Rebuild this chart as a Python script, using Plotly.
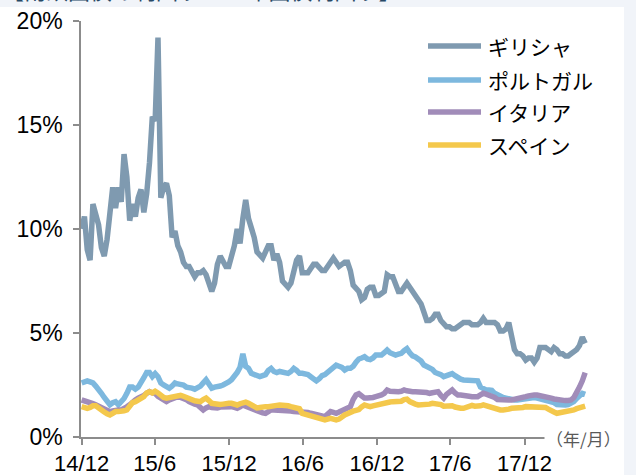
import pandas as pd
import plotly.graph_objects as go

# weekly observation dates (every 7 days from 2014-12-31)
dates = pd.date_range("2014-12-31", periods=179, freq="7D")

series_names = ["ギリシャ", "ポルトガル", "イタリア", "スペイン"]
series_colors = ["#7f9ab0", "#7db8de", "#a18cb9", "#f4c84c"]

greece = [
    10.0, 10.6, 9.0, 8.5, 11.2, 10.8, 10.2, 9.1, 8.7, 9.5,
    10.6, 12.0, 11.0, 12.0, 11.3, 13.6, 12.5, 10.4, 11.2, 10.6,
    11.5, 11.9, 10.8, 11.7, 13.2, 15.4, 15.2, 19.2, 11.5, 12.0,
    12.2, 11.6, 9.6, 9.9, 9.2, 8.9, 8.4, 8.2, 8.2, 7.9,
    7.7, 7.9, 7.9, 8.0, 7.8, 7.4, 7.0, 7.4, 8.3, 8.7,
    8.5, 8.2, 8.2, 8.6, 9.2, 10.0, 9.3, 10.5, 11.4, 10.5,
    10.1, 9.6, 8.9, 8.7, 8.6, 8.9, 9.2, 9.2, 8.5, 8.8,
    8.4, 7.5, 7.3, 7.2, 7.4, 8.1, 8.5, 8.7, 7.9, 7.9,
    7.9, 8.1, 8.3, 8.3, 8.1, 8.0, 8.0, 8.2, 8.4, 8.6,
    8.4, 8.2, 8.3, 8.4, 8.4, 8.0, 7.3, 7.1, 7.0, 6.6,
    6.7, 7.1, 7.2, 7.2, 6.8, 6.8, 6.9, 7.0, 7.8, 7.7,
    7.7, 7.4, 7.0, 7.0, 7.2, 7.4, 7.2, 7.0, 6.8, 6.6,
    6.4, 6.0, 5.6, 5.6, 5.7, 5.9, 5.9, 5.6, 5.4, 5.3,
    5.3, 5.2, 5.2, 5.3, 5.4, 5.5, 5.5, 5.5, 5.4, 5.4,
    5.4, 5.5, 5.7, 5.5, 5.5, 5.5, 5.5, 5.4, 5.1, 5.1,
    5.2, 5.5, 4.9, 4.2, 4.0, 4.0, 3.9, 3.7, 3.8, 3.8,
    3.6, 3.8, 4.3, 4.3, 4.3, 4.2, 4.1, 4.3, 4.2, 4.0,
    4.0, 3.9, 3.9, 4.0, 4.1, 4.2, 4.4, 4.8, 4.5,
]

portugal = [
    2.6, 2.65, 2.7, 2.65, 2.6, 2.45, 2.3, 2.1, 1.9, 1.7,
    1.55, 1.65, 1.7, 1.55, 1.7, 1.85, 2.1, 2.4, 2.4, 2.3,
    2.4, 2.7, 2.85, 3.1, 3.1, 2.9, 3.05, 2.9, 2.6, 2.5,
    2.4, 2.35, 2.45, 2.6, 2.55, 2.55, 2.5, 2.4, 2.4, 2.35,
    2.3, 2.35, 2.45, 2.6, 2.75, 2.55, 2.35, 2.4, 2.4, 2.45,
    2.5, 2.55, 2.65, 2.75, 2.9, 3.1, 3.35, 4.0, 3.4, 3.3,
    3.06, 3.0, 2.9, 2.9, 2.95, 3.0, 3.2, 3.3, 3.15, 3.1,
    3.15, 3.14, 3.12, 3.06, 3.15, 3.3, 3.2, 3.06, 3.06, 3.04,
    3.0, 2.9, 2.8, 2.7, 2.8, 2.95, 3.0, 3.1, 3.22, 3.3,
    3.45, 3.4, 3.35, 3.22, 3.3, 3.3, 3.4, 3.6, 3.75, 3.8,
    3.86, 3.75, 3.72, 3.8, 3.94, 3.94, 3.94, 4.05, 4.18, 4.05,
    4.0, 3.94, 3.98, 4.02, 4.15, 4.25, 4.05, 3.9, 3.85, 3.78,
    3.65, 3.46, 3.4, 3.3, 3.25, 3.1, 3.06, 3.0, 2.9, 2.95,
    3.0, 3.05, 2.95, 2.82, 2.78, 2.74, 2.74, 2.74, 2.74, 2.74,
    2.7, 2.4, 2.3, 2.26, 2.26, 2.24, 2.1, 2.02, 1.95, 1.9,
    1.87, 1.82, 1.78, 1.78, 1.78, 1.8, 1.85, 1.87, 1.9, 1.94,
    1.9, 1.87, 1.84, 1.8, 1.78, 1.74, 1.7, 1.65, 1.56, 1.54,
    1.54, 1.54, 1.56, 1.62, 1.7, 1.85, 2.0, 2.1, 2.05,
]

italy = [
    1.78, 1.75, 1.70, 1.66, 1.60, 1.55, 1.48, 1.40, 1.35, 1.28,
    1.22, 1.25, 1.30, 1.30, 1.30, 1.35, 1.45, 1.55, 1.70, 1.78,
    1.87, 1.92, 2.00, 2.10, 2.18, 2.12, 2.10, 1.95, 1.85, 1.78,
    1.70, 1.78, 1.85, 1.90, 1.94, 1.90, 1.87, 1.80, 1.70, 1.62,
    1.58, 1.54, 1.40, 1.30, 1.40, 1.46, 1.42, 1.38, 1.40, 1.44,
    1.46, 1.46, 1.46, 1.46, 1.42, 1.38, 1.45, 1.54, 1.48, 1.42,
    1.38, 1.32, 1.24, 1.22, 1.16, 1.14, 1.22, 1.30, 1.30, 1.30,
    1.30, 1.30, 1.30, 1.28, 1.25, 1.22, 1.22, 1.22, 1.22, 1.22,
    1.18, 1.14, 1.12, 1.08, 1.04, 1.00, 0.98, 1.10, 1.22, 1.18,
    1.14, 1.20, 1.28, 1.30, 1.38, 1.46, 1.80, 2.02, 2.08, 2.00,
    1.87, 1.87, 1.87, 1.90, 1.94, 1.97, 2.02, 2.10, 2.26, 2.20,
    2.18, 2.18, 2.18, 2.20, 2.26, 2.22, 2.18, 2.18, 2.18, 2.18,
    2.18, 2.18, 2.14, 2.10, 2.12, 2.16, 2.18, 2.00, 1.87, 2.05,
    2.20, 2.26, 2.12, 2.02, 2.02, 2.02, 2.00, 1.96, 1.94, 1.94,
    1.94, 2.02, 2.10, 2.06, 2.02, 2.00, 1.90, 1.80, 1.78, 1.78,
    1.78, 1.78, 1.78, 1.80, 1.85, 1.88, 1.92, 1.94, 1.98, 2.02,
    2.02, 2.02, 2.00, 1.96, 1.94, 1.90, 1.87, 1.83, 1.80, 1.78,
    1.76, 1.75, 1.76, 1.78, 1.90, 2.10, 2.40, 2.70, 3.10,
]

spain = [
    1.46, 1.42, 1.38, 1.42, 1.50, 1.50, 1.38, 1.30, 1.20, 1.12,
    1.06, 1.14, 1.22, 1.22, 1.22, 1.26, 1.30, 1.50, 1.65, 1.70,
    1.78, 1.85, 1.94, 2.12, 2.18, 2.12, 2.20, 2.12, 1.98, 1.90,
    1.87, 1.90, 1.94, 1.98, 2.00, 2.00, 1.96, 1.90, 1.82, 1.78,
    1.74, 1.72, 1.70, 1.80, 1.87, 1.75, 1.62, 1.60, 1.56, 1.56,
    1.58, 1.62, 1.62, 1.62, 1.58, 1.54, 1.60, 1.66, 1.68, 1.62,
    1.54, 1.46, 1.40, 1.42, 1.46, 1.46, 1.46, 1.46, 1.48, 1.52,
    1.54, 1.54, 1.54, 1.50, 1.46, 1.44, 1.40, 1.36, 1.14, 1.10,
    1.08, 1.06, 1.02, 0.94, 0.88, 0.84, 0.82, 0.86, 0.90, 0.86,
    0.82, 0.86, 0.98, 1.06, 1.12, 1.20, 1.24, 1.28, 1.32, 1.45,
    1.54, 1.50, 1.46, 1.50, 1.54, 1.56, 1.60, 1.62, 1.66, 1.68,
    1.70, 1.70, 1.70, 1.72, 1.80, 1.82, 1.70, 1.62, 1.58, 1.54,
    1.54, 1.54, 1.56, 1.58, 1.62, 1.62, 1.62, 1.56, 1.48, 1.48,
    1.52, 1.50, 1.44, 1.38, 1.38, 1.38, 1.44, 1.50, 1.52, 1.48,
    1.46, 1.50, 1.54, 1.50, 1.46, 1.44, 1.38, 1.30, 1.30, 1.30,
    1.30, 1.34, 1.38, 1.38, 1.38, 1.38, 1.42, 1.46, 1.46, 1.46,
    1.46, 1.46, 1.46, 1.46, 1.42, 1.34, 1.24, 1.20, 1.14, 1.16,
    1.20, 1.22, 1.24, 1.28, 1.30, 1.36, 1.38, 1.42, 1.48,
]

tick_dates = ["2014-12-31", "2015-06-30", "2015-12-31", "2016-06-30",
              "2016-12-31", "2017-06-30", "2017-12-31"]
tick_labels = ["14/12", "15/6", "15/12", "16/6", "16/12", "17/6", "17/12"]
y_ticks = [0, 5, 10, 15, 20]
y_tick_labels = ["0%", "5%", "10%", "15%", "20%"]

title_text = "【南欧国債の利回り：10年国債利回り】"
unit_text = "（年/月）"

all_series = [greece, portugal, italy, spain]

# pixel geometry of the plot area
W, H = 636, 475
L, R, T, B = 81, 590, 21, 437


def px(p):
    return (p - L) / (R - L)


def py(q):
    return (B - q) / (B - T)


fig = go.Figure()
for name, col, vals in zip(series_names, series_colors, all_series):
    fig.add_trace(go.Scatter(x=dates, y=vals, mode="lines", name=name,
                             line=dict(color=col, width=5.5),
                             showlegend=False))

shapes = []
annotations = []
bg = "#f1f4f9"
# light strips (top and right)
shapes.append(dict(type="rect", xref="paper", yref="paper", x0=px(-20), x1=px(W + 20),
                   y0=py(7), y1=py(-20), fillcolor=bg, line=dict(width=0), layer="below"))
shapes.append(dict(type="rect", xref="paper", yref="paper", x0=px(624), x1=px(W + 20),
                   y0=py(H + 20), y1=py(-20), fillcolor=bg, line=dict(width=0), layer="below"))

# manual legend
leg_y = [46, 80, 112, 145]
for name, col, yy in zip(series_names, series_colors, leg_y):
    shapes.append(dict(type="line", xref="paper", yref="paper", x0=px(428), x1=px(481),
                       y0=py(yy), y1=py(yy), line=dict(color=col, width=5.5)))
    annotations.append(dict(xref="paper", yref="paper", x=px(486), y=py(yy), text=name,
                            showarrow=False, xanchor="left", yanchor="middle",
                            font=dict(family="Noto Sans CJK JP", size=21, color="#000000")))

annotations.append(dict(xref="paper", yref="paper", x=px(623), y=py(438), text=unit_text,
                        showarrow=False, xanchor="right", yanchor="middle", bgcolor="#ffffff",
                        font=dict(family="Noto Sans CJK JP", size=17, color="#595959")))
annotations.append(dict(xref="paper", yref="paper", x=px(0), y=py(7), text=title_text,
                        showarrow=False, xanchor="left", yanchor="bottom",
                        font=dict(family="Noto Sans CJK JP", size=22, color="#274866")))

fig.update_layout(
    width=W, height=H,
    margin=dict(l=L, r=W - R, t=T, b=H - B, pad=0, autoexpand=False),
    paper_bgcolor="#ffffff", plot_bgcolor="#ffffff",
    shapes=shapes, annotations=annotations,
    font=dict(family="Arial, Liberation Sans, sans-serif", color="#000000"),
)
fig.update_xaxes(
    type="date", range=["2014-12-29 12:00", "2018-06-11"],
    tickvals=tick_dates, ticktext=tick_labels,
    showgrid=False, zeroline=False, showline=True, linecolor="#8c8c8c", linewidth=1.5,
    ticks="outside", ticklen=6, tickcolor="#8c8c8c", tickwidth=1.5,
    tickfont=dict(family="Arial, Liberation Sans", size=22, color="#000000"),
)
fig.update_yaxes(
    range=[0, 20], tickvals=y_ticks, ticktext=y_tick_labels,
    showgrid=False, zeroline=False, showline=True, linecolor="#8c8c8c", linewidth=1.5,
    ticks="outside", ticklen=6, tickcolor="#8c8c8c", tickwidth=1.5, ticklabelstandoff=6,
    tickfont=dict(family="Arial, Liberation Sans", size=23, color="#000000"),
)

fig.write_html(
    "out.html",
    config={"displayModeBar": False},
    post_script="document.body.style.margin='0';document.body.style.overflow='hidden';",
)
